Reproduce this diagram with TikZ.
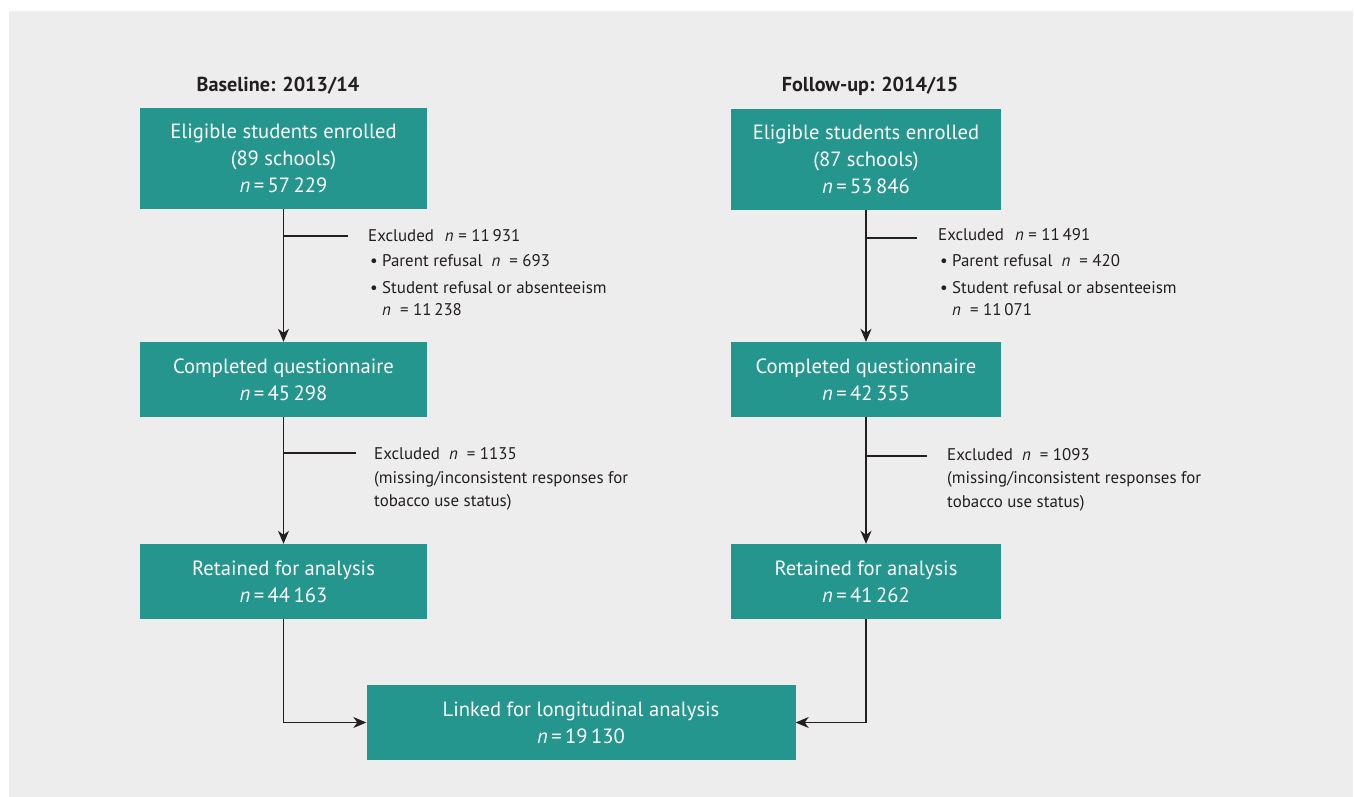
\documentclass[tikz,border=0pt]{standalone}
\usepackage{fontspec}
\setmainfont{PT Sans}
\usetikzlibrary{arrows.meta}
\definecolor{boxteal}{HTML}{24968E}
\definecolor{bggrey}{HTML}{EDEDED}
\definecolor{ink}{HTML}{231F20}
\begin{document}
\begin{tikzpicture}[x=1pt,y=-1pt,
  box/.style={fill=boxteal, text=white, inner sep=0pt, align=center,
    font=\fontsize{20.6}{27}\selectfont},
  side/.style={anchor=base west, inner sep=0pt, text=ink,
    font=\fontsize{16.9}{20}\selectfont},
  head/.style={anchor=base, inner sep=0pt, text=ink,
    font=\fontsize{20.2}{24}\selectfont\bfseries},
  link/.style={draw=ink, line width=1.4pt},
  arr/.style={link, -{Stealth[length=13pt,width=11pt,inset=4pt]}}]
\useasboundingbox (0,0) rectangle (1355,797);
\fill[bggrey] (9,11) rectangle (1353,797);

% headers
\node[head] (h1) at (278,92) {Baseline: 2013/14};
\node[head] (h2) at (870,92) {Follow-up: 2014/15};

% left column
\node[box, minimum width=287pt, minimum height=101pt] (b1) at (283.5,158.5)
  {Eligible students enrolled\\(89 schools)\\\textit{n}\,=\,57\,229};
\node[box, minimum width=287pt, minimum height=75pt] (b2) at (283.5,379.5)
  {Completed questionnaire\\\textit{n}\,=\,45\,298};
\node[box, minimum width=287pt, minimum height=75pt] (b3) at (283.5,581.5)
  {Retained for analysis\\\textit{n}\,=\,44\,163};

% right column
\node[box, minimum width=270pt, minimum height=101pt] (r1) at (866,159.5)
  {Eligible students enrolled\\(87 schools)\\\textit{n}\,=\,53\,846};
\node[box, minimum width=270pt, minimum height=75pt] (r2) at (866,379.5)
  {Completed questionnaire\\\textit{n}\,=\,42\,355};
\node[box, minimum width=270pt, minimum height=75pt] (r3) at (866,581.5)
  {Retained for analysis\\\textit{n}\,=\,41\,262};

% linked
\node[box, minimum width=429pt, minimum height=75pt] (L) at (581,722.5)
  {Linked for longitudinal analysis\\\textit{n}\,=\,19\,130};

% main connectors
\draw[arr] (b1) -- (b2);
\draw[arr] (b2) -- (b3);
\draw[arr] (r1) -- (r2);
\draw[arr] (r2) -- (r3);
\draw[arr] (b3.south) |- (L.west);
\draw[arr] (r3.south) |- (L.east);

% exclusion branches
\coordinate (k1) at (348,236);
\coordinate (k2) at (356,453);
\coordinate (k3) at (917,238);
\coordinate (k4) at (927,456);
\draw[link] (b1.south |- k1) -- (k1);
\draw[link] (b2.south |- k2) -- (k2);
\draw[link] (r1.south |- k3) -- (k3);
\draw[link] (r2.south |- k4) -- (k4);

% left exclusion texts
\node[side] (t1a) at (368,241) {Excluded\hspace{11pt}\textit{n} = 11\,931};
\node[side] (t1b) at (370,266) {•};
\node[side] (t1c) at (382,266) {Parent refusal\ \ \textit{n}\ \ = 693};
\node[side] (t1d) at (370,293) {•};
\node[side] (t1e) at (382,293) {Student refusal or absenteeism};
\node[side] (t1f) at (382,315) {\textit{n}\ \ = 11\,238};

\node[side] (t2a) at (374,459) {Excluded\ \ \textit{n}\ \ = 1135};
\node[side] (t2b) at (374,483) {(missing/inconsistent responses for};
\node[side] (t2c) at (374,506) {tobacco use status)};

% right exclusion texts
\node[side] (t3a) at (938,240) {Excluded\hspace{11pt}\textit{n} = 11\,491};
\node[side] (t3b) at (940,266) {•};
\node[side] (t3c) at (952,266) {Parent refusal\ \ \textit{n}\ \ = 420};
\node[side] (t3d) at (940,293) {•};
\node[side] (t3e) at (952,293) {Student refusal or absenteeism};
\node[side] (t3f) at (952,315) {\textit{n}\ \ = 11\,071};

\node[side] (t4a) at (947,460) {Excluded\ \ \textit{n}\ \ = 1093};
\node[side] (t4b) at (947,483) {(missing/inconsistent responses for};
\node[side] (t4c) at (947,507) {tobacco use status)};
\end{tikzpicture}
\end{document}
